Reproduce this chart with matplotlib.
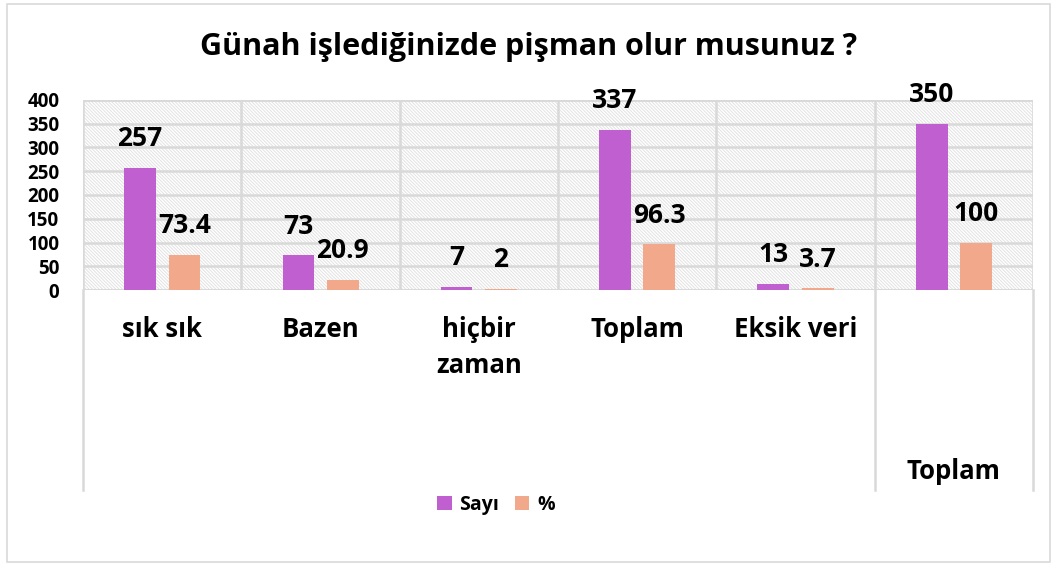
import matplotlib.pyplot as plt
import numpy as np
from matplotlib.patches import Rectangle
from matplotlib.lines import Line2D

# data
categories = ['sık sık', 'Bazen', 'hiçbir\nzaman', 'Toplam', 'Eksik veri', '']
group_label = 'Toplam'
sayi = [257, 73, 7, 337, 13, 350]
yuzde = [73.4, 20.9, 2, 96.3, 3.7, 100]
sayi_txt = ['257', '73', '7', '337', '13', '350']
yuzde_txt = ['73.4', '20.9', '2', '96.3', '3.7', '100']

purple = '#C060D0'
salmon = '#F2A88A'
grid_c = '#D9D9D9'

plt.rcParams['font.family'] = ['Open Sans', 'DejaVu Sans']
plt.rcParams['font.weight'] = 'bold'
plt.rcParams['hatch.color'] = '#E2E2E2'
plt.rcParams['hatch.linewidth'] = 0.7

fig = plt.figure(figsize=(10.57, 5.66), dpi=100)
ax = fig.add_axes([83/1057, 276/566, 950/1057, 190/566])

# outer chart border
fig.patches.append(Rectangle((7/1057, 4/566), 1043/1057, 558/566, transform=fig.transFigure,
                             fill=False, edgecolor='#D9D9D9', linewidth=1.2))

x = np.arange(len(categories))
w = 0.2
ax.add_patch(Rectangle((0, 0), 1, 1, transform=ax.transAxes, facecolor='white',
                       hatch='\\' * 10, edgecolor='#E2E2E2', linewidth=0, zorder=0))
ax.bar(x - 0.14, sayi, w, color=purple, zorder=3, label='Sayı')
ax.bar(x + 0.14, yuzde, w, color=salmon, zorder=3, label='%')

for i in range(len(x)):
    ax.annotate(sayi_txt[i], (x[i] - 0.14, sayi[i]), xytext=(0, 21), textcoords='offset points',
                ha='center', va='center', fontsize=19, fontweight='bold')
    ax.annotate(yuzde_txt[i], (x[i] + 0.14, yuzde[i]), xytext=(0, 21), textcoords='offset points',
                ha='center', va='center', fontsize=19, fontweight='bold')

ax.set_xlim(-0.5, len(categories) - 0.5)
ax.set_ylim(0, 400)
ax.set_yticks(range(0, 401, 50))
ax.tick_params(axis='y', length=0, labelsize=13.5, pad=17)
for lab in ax.get_yticklabels():
    lab.set_fontweight('bold')
ax.set_xticks([])
ax.grid(axis='y', color=grid_c, linewidth=1.8, zorder=1)
for s in ax.spines.values():
    s.set_visible(False)
ax.axhline(0, color=grid_c, linewidth=1.8, zorder=2)
ax.axhline(400, color=grid_c, linewidth=1.8, zorder=2)

# category boundaries
for b in np.arange(-0.5, len(categories), 1):
    ax.axvline(b, color=grid_c, linewidth=1.8, zorder=1)
for b in [-0.5, 4.5, 5.5]:
    ax.add_line(Line2D([b, b], [0, -200/190], transform=ax.get_xaxis_transform(),
                       color=grid_c, linewidth=1.8, clip_on=False))

tr = ax.get_xaxis_transform()
for i, c in enumerate(categories):
    ax.text(x[i], -26/190, c, transform=tr, ha='center', va='top', fontsize=18.5,
            fontweight='bold', linespacing=1.45)
ax.text(5, -181/190, group_label, transform=tr, ha='center', va='center', fontsize=18.5,
        fontweight='bold')

fig.text(0.5, 1 - 47/566, 'Günah işlediğinizde pişman olur musunuz ?', ha='center', va='center',
         fontsize=22, fontweight='bold')

fig.legend(loc='center', bbox_to_anchor=(496/1057, 1 - 505/566), ncol=2, frameon=False,
           fontsize=14, handlelength=0.75, handleheight=0.75, columnspacing=0.8, handletextpad=0.4)

plt.savefig('out.png', dpi=100)
